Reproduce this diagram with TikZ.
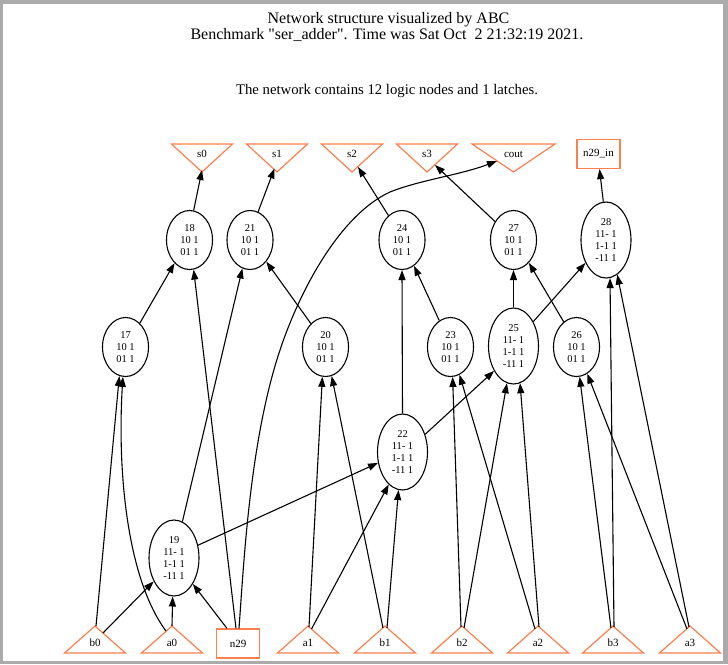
\documentclass[tikz,border=0pt]{standalone}
\usepackage{fontspec}
\setmainfont{Liberation Serif}
\newfontfamily\plainrm{Liberation Serif}
\usetikzlibrary{shapes.geometric,arrows.meta}
\definecolor{coralc}{HTML}{FF7F50}
\definecolor{framegray}{HTML}{ABABAB}
\begin{document}
\begin{tikzpicture}[x=1pt,y=-1pt,
  gate/.style={ellipse, draw, line width=1.1pt, inner sep=0pt, align=center,
    font=\fontsize{10.5}{11.8}\selectfont, minimum width=46pt, minimum height=59pt},
  gate4/.style={gate, minimum width=50pt, minimum height=76pt},
  io/.style={inner sep=0pt, font=\fontsize{11}{12}\selectfont},
  latchbox/.style={io, draw=coralc, line width=1.2pt, minimum width=43pt, minimum height=29pt},
  tri/.style={draw=coralc, line width=1.2pt, line join=miter},
  arr/.style={-{Triangle[length=10pt,width=7pt]}, line width=1.1pt},
  ttl/.style={inner sep=0pt, font=\plainrm\fontsize{16}{18}\selectfont},
]
\useasboundingbox (0,0) rectangle (728,664);
\fill[framegray] (0,0) rectangle (728,664);
\fill[white] (3,4) rectangle (723,661);

% titles
\node[ttl] (t1) at (388.5,20) {Network structure visualized by ABC};
\node[ttl] (t2) at (387,35) {Benchmark "ser\_adder". Time was Sat Oct\ \ 2 21:32:19 2021.};
\node[inner sep=0pt, font=\fontsize{14.75}{16}\selectfont] (t3) at (387,91) {The network contains 12 logic nodes and 1 latches.};

% outputs
\node[io] (s0) at (202,154) {s0};
\node[io] (s1) at (277,154) {s1};
\node[io] (s2) at (352,154) {s2};
\node[io] (s3) at (427,154) {s3};
\node[io] (cout) at (513.5,154) {cout};
\node[latchbox] (n29in) at (598.5,154) {n29\_in};
\foreach \n in {s0,s1,s2,s3}
  \draw[tri] ([shift={(-30.5,-10)}]\n.center) -- ([shift={(30.5,-10)}]\n.center)
     -- ([shift={(0,18)}]\n.center) -- cycle;
\draw[tri] ([shift={(-41.5,-10)}]cout.center) -- ([shift={(41.5,-10)}]cout.center)
     -- ([shift={(0,18)}]cout.center) -- cycle;

% inputs
\node[io] (b0) at (95,643) {b0};
\node[io] (a0) at (172,643) {a0};
\node[latchbox] (n29) at (238,643.5) {n29};
\node[io] (a1) at (308,643) {a1};
\node[io] (b1) at (385,643) {b1};
\node[io] (b2) at (462,643) {b2};
\node[io] (a2) at (538,643) {a2};
\node[io] (b3) at (613,643) {b3};
\node[io] (a3) at (690,643) {a3};
\foreach \n in {b0,a0,a1,b1,b2,a2,b3,a3}
  \draw[tri] ([shift={(-30.5,10)}]\n.center) -- ([shift={(30.5,10)}]\n.center)
     -- ([shift={(0,-17)}]\n.center) -- cycle;

% gates
\node[gate] (n18) at (189.5,240) {18\\10 1\\01 1};
\node[gate] (n21) at (250,240) {21\\10 1\\01 1};
\node[gate] (n24) at (402,240) {24\\10 1\\01 1};
\node[gate] (n27) at (513.5,240) {27\\10 1\\01 1};
\node[gate4] (n28) at (606,240) {28\\11- 1\\1-1 1\\-11 1};
\node[gate] (n17) at (125.5,347) {17\\10 1\\01 1};
\node[gate] (n20) at (325.5,347) {20\\10 1\\01 1};
\node[gate] (n23) at (450.5,347) {23\\10 1\\01 1};
\node[gate4] (n25) at (513.5,346) {25\\11- 1\\1-1 1\\-11 1};
\node[gate] (n26) at (576.5,347) {26\\10 1\\01 1};
\node[gate4] (n22) at (402.5,452) {22\\11- 1\\1-1 1\\-11 1};
\node[gate4] (n19) at (174,558) {19\\11- 1\\1-1 1\\-11 1};

% edges to outputs
\draw[arr] (n18.82) -- ([shift={(0,16)}]s0.center);
\draw[arr] (n21.74) -- ([shift={(-2.5,14.5)}]s1.center);
\draw[arr] (n24.119) -- ([shift={(6,13)}]s2.center);
\draw[arr] (n27.135) -- ([shift={(8,11)}]s3.center);
\draw[arr] (n28.94) -- ([xshift=1pt]n29in.south);

% internal edges
\draw[arr] (n17.59) -- (n18.237);
\draw[arr] ([xshift=-2pt]n29.north) -- (n18.278);
\draw[arr] (n19.77) -- (n21.255);
\draw[arr] (n20.122) -- (n21.307);
\draw[arr] (n22.north) -- (n24.south);
\draw[arr] (n23.113) -- (n24.295);
\draw[arr] (n25.north) -- (n27.south);
\draw[arr] (n26.117) -- (n27.304);
\draw[arr] (n25.51) -- (n28.228);
\draw[arr] (n19.28) -- (n22.204);
\draw[arr] (n22.38) -- (n25.232);

% input edges
\draw[arr] ([shift={(1,-17)}]b0.center) -- (n17.258);
\draw[arr] ([shift={(-6,-12)}]a0.center) .. controls (128,580) and (117,475) .. (n17.265);
\draw[arr] ([shift={(8,-10)}]b0.center) -- (n19.229);
\draw[arr] ([shift={(0,-17)}]a0.center) -- (n19.268);
\draw[arr] ([xshift=-11pt]n29.north) -- (n19.306);
\draw[arr] ([xshift=1pt]n29.north) .. controls (244,560) and (250,440) .. (280,350)
   .. controls (300,290) and (340,215) .. (390,192)
   .. controls (420,180) and (460,175) .. ([shift={(-16.5,7)}]cout.center);
\draw[arr] ([shift={(1,-16)}]a1.center) -- (n20.264);
\draw[arr] ([shift={(3.5,-14)}]a1.center) -- (n22.247);
\draw[arr] ([shift={(-2,-15)}]b1.center) -- (n20.282);
\draw[arr] ([shift={(2,-15)}]b1.center) -- (n22.264);
\draw[arr] ([shift={(-1,-16)}]b2.center) -- (n23.274);
\draw[arr] ([shift={(2,-15)}]b2.center) -- (n25.260);
\draw[arr] ([shift={(-3,-14)}]a2.center) -- (n23.288);
\draw[arr] ([shift={(1,-16)}]a2.center) -- (n25.280);
\draw[arr] ([shift={(-2,-15)}]b3.center) -- (n26.276);
\draw[arr] ([shift={(1,-16)}]b3.center) -- (n28.276);
\draw[arr] ([shift={(-3,-14)}]a3.center) -- (n26.292);
\draw[arr] ([shift={(-1,-16)}]a3.center) -- (n28.288);
\end{tikzpicture}
\end{document}
